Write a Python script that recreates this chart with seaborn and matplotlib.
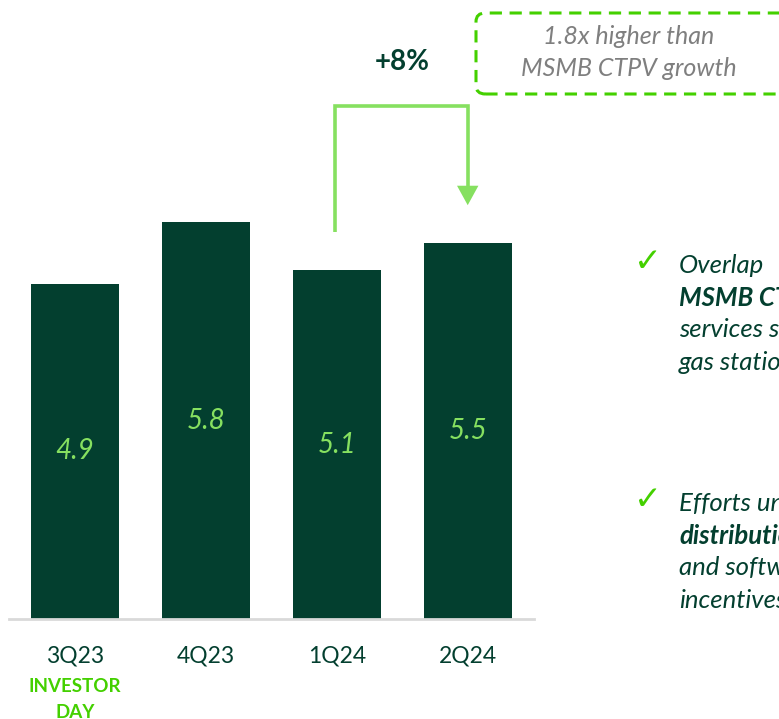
import matplotlib
matplotlib.use("Agg")
import matplotlib.pyplot as plt
from matplotlib.patches import FancyBboxPatch, FancyArrowPatch
import seaborn as sns
import pandas as pd

# Quarterly values
quarters = ["3Q23", "4Q23", "1Q24", "2Q24"]
values = [4.9, 5.8, 5.1, 5.5]
growth_label = "+8%"
callout_lines = ["1.8x higher than", "MSMB CTPV growth"]

DARK = "#033F2F"
LIGHT = "#86E060"
BRIGHT = "#44D000"
GRAY = "#7F7F7F"

sns.set_theme(style="white")
plt.rcParams["font.family"] = ["Lato", "DejaVu Sans"]

W, H = 779, 719
fig = plt.figure(figsize=(W / 100, H / 100), dpi=100)
fig.patch.set_facecolor("white")


def px(x, y):
    """Pixel position (origin top-left) to figure fraction."""
    return x / W, 1 - y / H


ax = fig.add_axes([9 / W, 100 / H, 525 / W, 519 / H])
df = pd.DataFrame({"quarter": quarters, "value": values})
sns.barplot(data=df, x="quarter", y="value", color=DARK, width=0.67,
            saturation=1, ax=ax, edgecolor="none")
ax.set_xlim(-0.5, 3.5)
ax.set_ylim(0, 519 / 68.4)
for s in ["top", "right", "left"]:
    ax.spines[s].set_visible(False)
ax.spines["bottom"].set_color("#D9D9D9")
ax.spines["bottom"].set_linewidth(2)
ax.set_yticks([])
ax.set_xlabel("")
ax.set_ylabel("")
ax.tick_params(axis="x", length=0, pad=19, labelsize=16.5, labelcolor=DARK)

# values inside the bars
for i, v in enumerate(values):
    ax.text(i, v / 2, f"{v:.1f}", ha="center", va="center", fontsize=20,
            style="italic", color=LIGHT)

# investor-day tag under the first quarter
fig.text(*px(75, 687), "INVESTOR", ha="center", va="center", fontsize=13.5,
         fontweight="bold", color=BRIGHT)
fig.text(*px(75, 712), "DAY", ha="center", va="center", fontsize=13.5,
         fontweight="bold", color=BRIGHT)

# growth bracket from 1Q24 to 2Q24
top_y = 7.5
x0, x1 = 2 - 0.015, 3 - 0.005
ax.plot([x0, x0, x1, x1], [values[2] + 0.56, top_y, top_y, values[3] + 0.75],
        color=LIGHT, lw=2.6, clip_on=False, solid_joinstyle="miter",
        solid_capstyle="butt")
ax.add_patch(FancyArrowPatch((x1, values[3] + 0.80), (x1, values[3] + 0.55),
                             arrowstyle="-|>,head_length=1.0,head_width=0.55",
                             mutation_scale=14, color=LIGHT, lw=0,
                             shrinkA=0, shrinkB=0, clip_on=False))
ax.text(2.5, 8.14, growth_label, ha="center", va="center", fontsize=20,
        fontweight="bold", color=DARK, clip_on=False)

# dashed callout box
bx0, by0 = px(476, 94)
bx1, by1 = px(800, 13)
box = FancyBboxPatch((bx0, by0), bx1 - bx0, by1 - by0,
                     boxstyle="round,pad=0,rounding_size=0.012",
                     transform=fig.transFigure, fill=False, edgecolor=BRIGHT,
                     lw=2.2, linestyle=(0, (4, 2.5)))
fig.patches.append(box)
fig.text(*px(629, 37), callout_lines[0], ha="center", va="center",
         fontsize=18, style="italic", color=GRAY)
fig.text(*px(629, 68), callout_lines[1], ha="center", va="center",
         fontsize=18, style="italic", color=GRAY)

# commentary bullets on the right
bullets = [
    (265, [("Overlap", "normal"), ("MSMB CTPV", "bold"),
           ("services such as", "normal"), ("gas stations", "normal")]),
    (503, [("Efforts under", "normal"), ("distribution", "bold"),
           ("and software", "normal"), ("incentives", "normal")]),
]
for y0, lines in bullets:
    fig.text(*px(648, y0 - 4), "\u2713", ha="center", va="center",
             fontsize=24, color=BRIGHT, family="DejaVu Sans")
    for k, (txt, wt) in enumerate(lines):
        fig.text(*px(679, y0 + 32.5 * k), txt, ha="left", va="center",
                 fontsize=18.5, style="italic", fontweight=wt, color=DARK)

fig.savefig("out.png", dpi=100, facecolor="white")
